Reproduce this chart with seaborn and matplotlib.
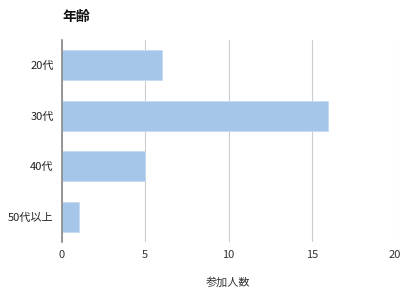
import matplotlib
matplotlib.use("Agg")
import matplotlib.pyplot as plt
import seaborn as sns
import pandas as pd

categories = ["20代", "30代", "40代", "50代以上"]
counts = [6, 16, 5, 1]
x_ticks = [0, 5, 10, 15, 20]

sns.set_theme(style="white")
plt.rcParams['font.family'] = ['Noto Sans CJK JP', 'DejaVu Sans']

df = pd.DataFrame({"age": categories, "n": counts})

fig = plt.figure(figsize=(4, 3), dpi=100)
ax = fig.add_axes([0.155, 0.193, 0.8325, 0.674])
sns.barplot(data=df, y="age", x="n", orient="h", color="#a5c6e9", saturation=1,
            width=0.6, edgecolor="#c6dbf2", linewidth=0.6, ax=ax, zorder=3)

ax.set_xlim(0, 20)
ax.set_ylim(3.5, -0.5)
ax.set_xticks(x_ticks)
ax.set_xticklabels([str(t) for t in x_ticks], fontsize=8, color="#333333")
ax.tick_params(axis="y", labelsize=8, labelcolor="#222222", length=0, pad=6)
ax.tick_params(axis="x", length=0, pad=6)
ax.grid(axis="x", color="#cccccc", linewidth=0.8, zorder=0)
ax.set_axisbelow(True)
for s in ["top", "right", "bottom"]:
    ax.spines[s].set_visible(False)
ax.spines["left"].set_color("#888888")
ax.spines["left"].set_linewidth(1.2)
ax.spines["left"].set_zorder(5)
ax.set_ylabel("")
ax.set_xlabel("参加人数", fontsize=8, style="italic", color="#333333", labelpad=12)
fig.text(0.155, 0.945, "年齢", fontsize=10, fontweight="bold", ha="left", va="center", color="#111111")

fig.savefig("out.png", dpi=100)
